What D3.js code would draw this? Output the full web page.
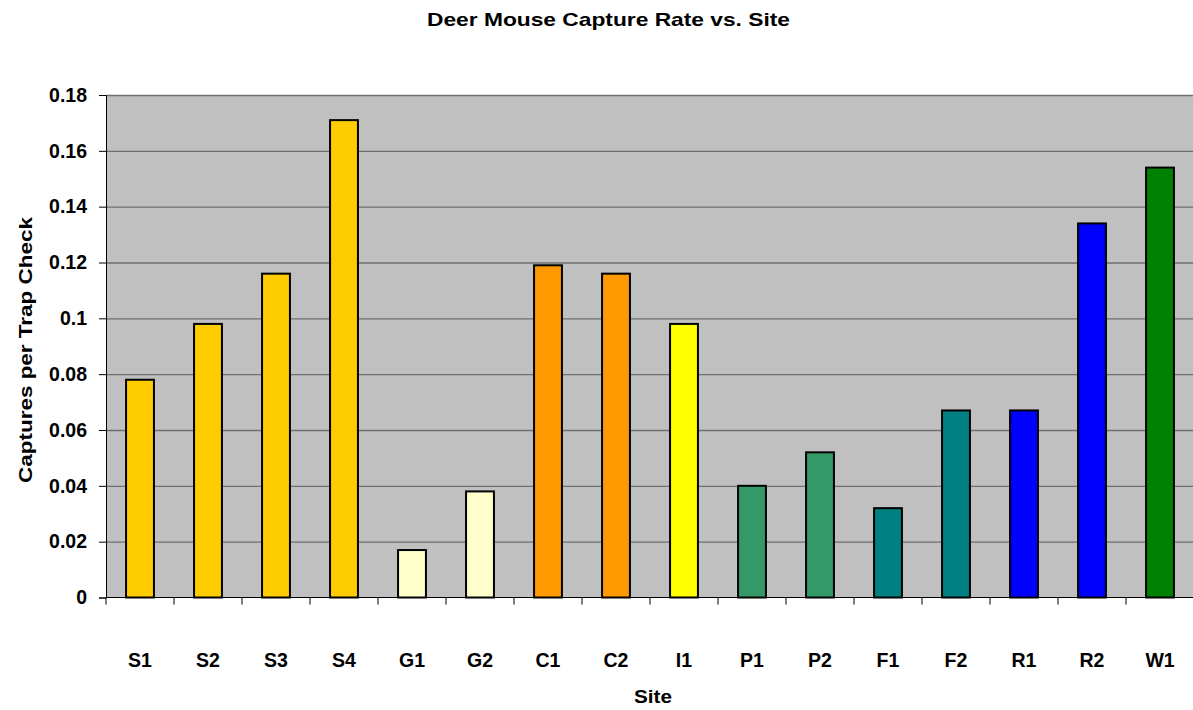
<html>
<head>
    <script src="https://d3js.org/d3.v7.min.js"></script>
    <style>
        body { margin: 0; background: #fff; }
        text { font-family: "Liberation Sans", Arial, sans-serif; font-weight: bold; fill: #000; }
        .gridlines line { stroke: #6e6e6e; stroke-width: 1.3px; }
        .gridlines .domain { stroke: none; }
        .bar { stroke: #000; stroke-width: 2px; }
    </style>
</head>
<body>
    <svg id="chart" width="1193" height="710"></svg>

    <script>
        // data
        const sites = ["S1", "S2", "S3", "S4", "G1", "G2", "C1", "C2", "I1", "P1", "P2", "F1", "F2", "R1", "R2", "W1"];
        const captureRate = [0.078, 0.098, 0.116, 0.171, 0.017, 0.038, 0.119, 0.116, 0.098, 0.040, 0.052, 0.032, 0.067, 0.067, 0.134, 0.154];
        const siteGroup = ["S", "S", "S", "S", "G", "G", "C", "C", "I", "P", "P", "F", "F", "R", "R", "W"];
        const groupColors = { S: "#FFCC00", G: "#FFFFCC", C: "#FF9900", I: "#FFFF00", P: "#339966", F: "#008080", R: "#0000FF", W: "#008000" };
        const yTicks = [0, 0.02, 0.04, 0.06, 0.08, 0.1, 0.12, 0.14, 0.16, 0.18];

        const svg = d3.select("#chart");
        const margin = { top: 95, right: 0, bottom: 112.5, left: 106 };
        const plotW = 1194 - margin.left;
        const plotH = 710 - margin.top - margin.bottom;

        const g = svg.append("g")
            .attr("transform", "translate(" + margin.left + "," + margin.top + ")");

        const x = d3.scaleBand().domain(sites).range([0, plotW]).paddingInner(0.59).paddingOuter(0.295);
        const y = d3.scaleLinear().domain([0, 0.18]).range([plotH, 0]);

        // grey plot area
        g.append("rect")
            .attr("width", plotW)
            .attr("height", plotH)
            .attr("fill", "#C0C0C0");

        // horizontal gridlines
        g.append("g")
            .attr("class", "gridlines")
            .call(d3.axisLeft(y).tickValues(yTicks.slice(1)).tickSize(-plotW).tickFormat(""));

        // bars
        const data = sites.map((s, i) => ({ site: s, value: captureRate[i], group: siteGroup[i] }));
        g.selectAll("rect.bar").data(data)
            .join("rect")
            .attr("class", "bar")
            .attr("x", d => x(d.site))
            .attr("y", d => y(d.value))
            .attr("width", x.bandwidth())
            .attr("height", d => y(0) - y(d.value))
            .attr("fill", d => groupColors[d.group]);

        // y axis
        const yAxis = g.append("g")
            .call(d3.axisLeft(y).tickValues(yTicks).tickSize(7).tickPadding(12).tickFormat(d => d === 0 ? "0" : d3.format("")(+d.toFixed(2))));
        yAxis.select(".domain").attr("stroke", "#000").attr("stroke-width", 1);
        yAxis.selectAll(".tick line").attr("stroke", "#000");
        yAxis.selectAll("text").style("font-size", "19.5px");

        // x axis: ticks sit between bands like Excel
        const xAxis = g.append("g").attr("transform", "translate(0," + plotH + ")");
        xAxis.append("line")
            .attr("x1", 0).attr("x2", plotW)
            .attr("stroke", "#000");
        xAxis.selectAll("line.tk").data(d3.range(sites.length + 1))
            .join("line")
            .attr("class", "tk")
            .attr("x1", i => i * x.step()).attr("x2", i => i * x.step())
            .attr("y1", 0).attr("y2", 7)
            .attr("stroke", "#000");
        xAxis.selectAll("text").data(sites)
            .join("text")
            .attr("x", d => x(d) + x.bandwidth() / 2)
            .attr("y", 69)
            .attr("text-anchor", "middle")
            .style("font-size", "19.5px")
            .text(d => d);

        // titles
        svg.append("text")
            .attr("x", 608.5).attr("y", 26)
            .attr("text-anchor", "middle")
            .attr("textLength", 363)
            .attr("lengthAdjust", "spacingAndGlyphs")
            .style("font-size", "19px")
            .text("Deer Mouse Capture Rate vs. Site");

        svg.append("text")
            .attr("x", 653).attr("y", 703)
            .attr("text-anchor", "middle")
            .attr("textLength", 38)
            .attr("lengthAdjust", "spacingAndGlyphs")
            .style("font-size", "19px")
            .text("Site");

        svg.append("text")
            .attr("transform", "translate(32,350) rotate(-90)")
            .attr("text-anchor", "middle")
            .attr("textLength", 266)
            .attr("lengthAdjust", "spacingAndGlyphs")
            .style("font-size", "19px")
            .text("Captures per Trap Check");
    </script>
</body>
</html>
